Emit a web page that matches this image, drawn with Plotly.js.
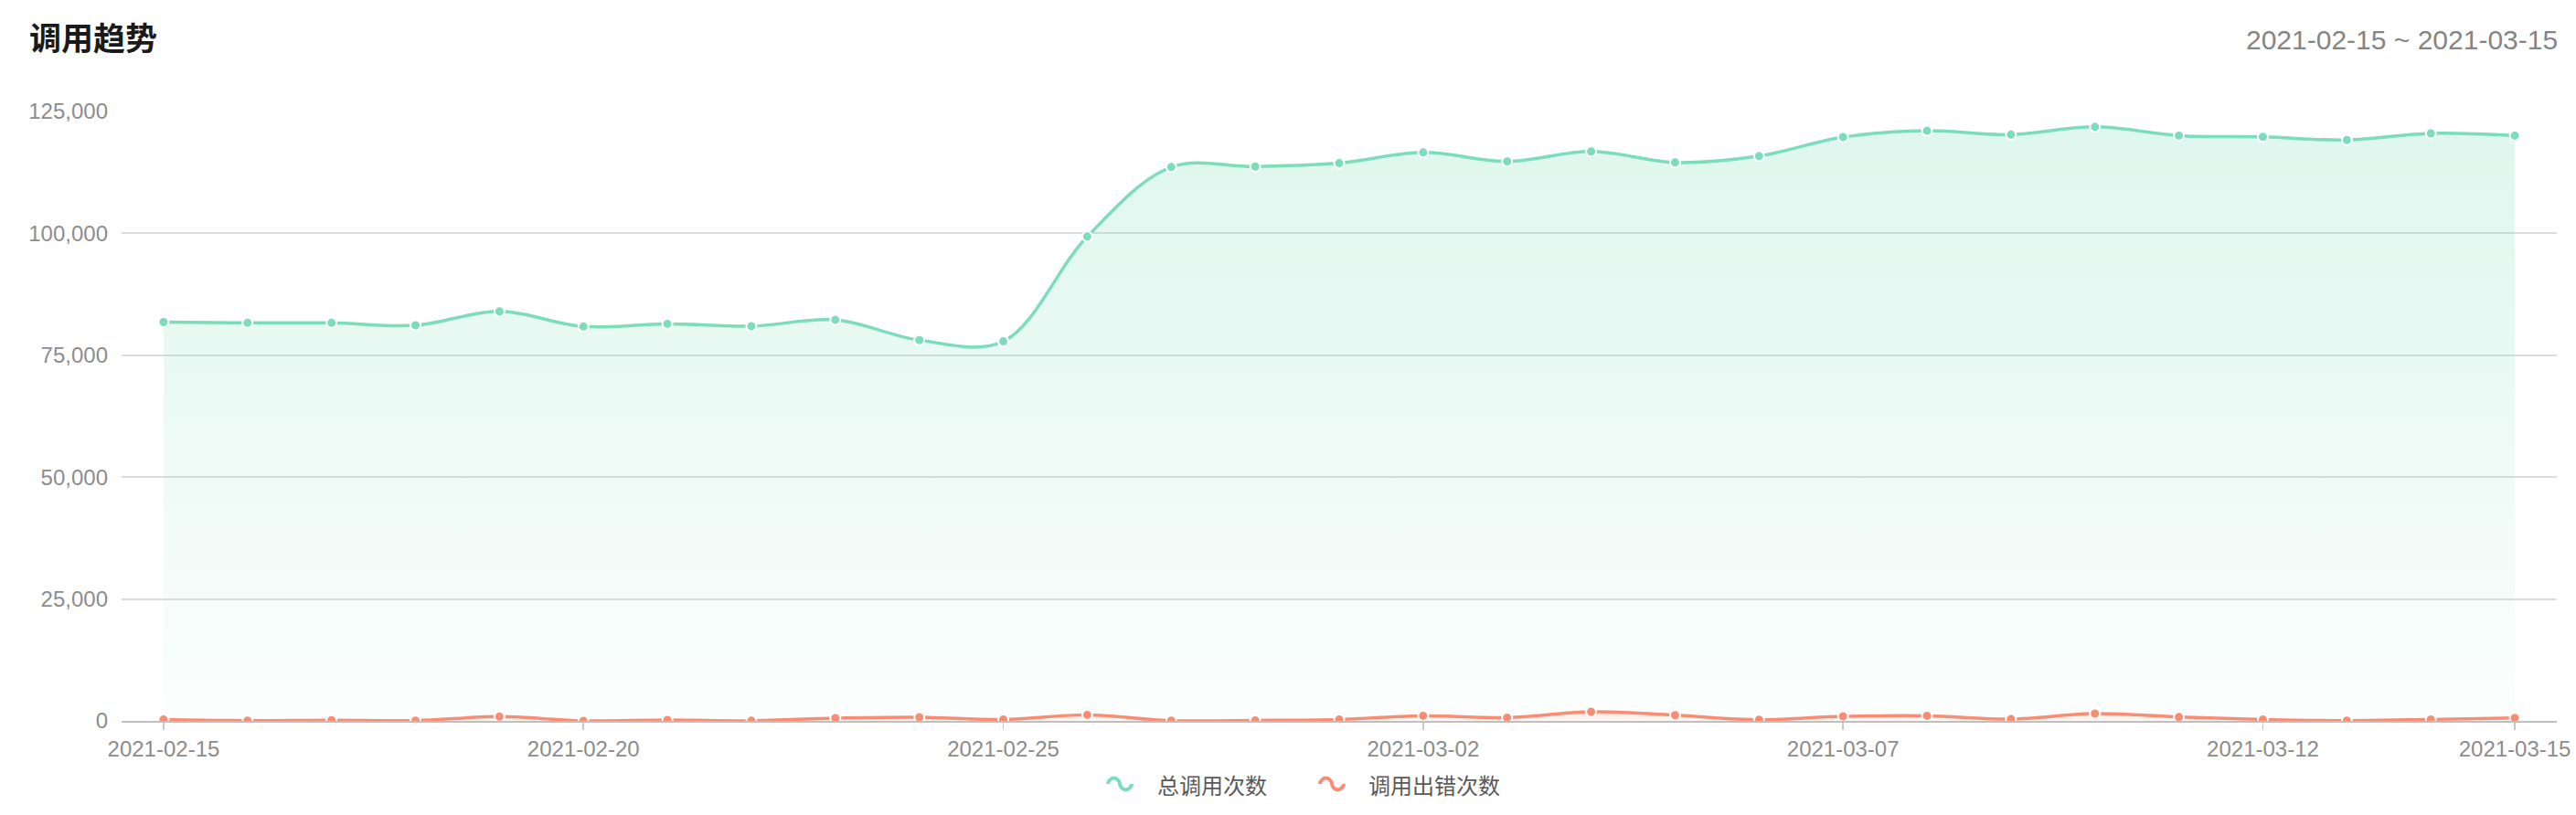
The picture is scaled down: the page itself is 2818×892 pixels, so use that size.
<!DOCTYPE html>
<html>
<head>
<meta charset="utf-8">
<script src="https://cdn.plot.ly/plotly-3.0.1.min.js"></script>
<style>
  html, body { margin: 0; padding: 0; background: #ffffff; }
  #chart { width: 2818px; height: 892px; }
</style>
</head>
<body>
<div id="chart"></div>
<script>
// ---- data ----
const dates = [
  '2021-02-15','2021-02-16','2021-02-17','2021-02-18','2021-02-19','2021-02-20','2021-02-21',
  '2021-02-22','2021-02-23','2021-02-24','2021-02-25','2021-02-26','2021-02-27','2021-02-28',
  '2021-03-01','2021-03-02','2021-03-03','2021-03-04','2021-03-05','2021-03-06','2021-03-07',
  '2021-03-08','2021-03-09','2021-03-10','2021-03-11','2021-03-12','2021-03-13','2021-03-14',
  '2021-03-15'
];
const totalCalls = [
  81800, 81650, 81650, 81150, 84000, 80900, 81450,
  80950, 82250, 78100, 77850, 99350, 113600, 113700,
  114400, 116600, 114750, 116800, 114550, 115850, 119750,
  121050, 120250, 121850, 120050, 119800, 119150, 120500,
  120050
];
const errorCalls = [
  300, 50, 150, 60, 870, 20, 190,
  30, 560, 750, 300, 1240, 50, 110,
  300, 1050, 670, 1870, 1180, 240, 930,
  1050, 370, 1500, 800, 300, 60, 300,
  620
];
const seriesNames = ['总调用次数', '调用出错次数'];
const xTickVals = ['2021-02-15','2021-02-20','2021-02-25','2021-03-02','2021-03-07','2021-03-12','2021-03-15'];
const yTickVals = [0, 25000, 50000, 75000, 100000, 125000];
const titleText = '调用趋势';
const rangeText = '2021-02-15 ~ 2021-03-15';

// ---- style ----
const W = 2818, H = 892;
const M = { l: 133, r: 21, t: 122, b: 103 };
const green = '#7BDDB9';
const red = '#F98D74';
const latin = 'Liberation Sans, Arial, Noto Sans CJK SC, sans-serif';
const cjk = 'Noto Sans CJK SC, Liberation Sans, sans-serif';

const plotW = W - M.l - M.r, plotH = H - M.t - M.b;
const px2x = p => (p - M.l) / plotW;
const px2y = p => (H - M.b - p) / plotH;

function waveShape(cx, cy, color) {
  const path = 'M -13,0 C -13,3.59 -9.09,6.5 -6.5,6.5 C -3.91,6.5 0,3.59 0,0 ' +
               'C 0,-3.59 3.91,-6.5 6.5,-6.5 C 9.09,-6.5 13,-3.59 13,0';
  return {
    type: 'path', xref: 'paper', yref: 'paper',
    xsizemode: 'pixel', ysizemode: 'pixel',
    xanchor: px2x(cx), yanchor: px2y(cy),
    path: path,
    line: { color: color, width: 4 },
    fillcolor: 'rgba(0,0,0,0)'
  };
}

const traces = [
  {
    type: 'scatter', mode: 'lines+markers', name: seriesNames[0],
    x: dates, y: totalCalls,
    line: { color: green, width: 3.5, shape: 'spline', smoothing: 1 },
    marker: { color: green, size: 11, line: { color: '#ffffff', width: 2 } },
    fill: 'tozeroy',
    fillgradient: {
      type: 'vertical', start: 0, stop: 122000,
      colorscale: [[0, 'rgba(123,221,185,0.03)'], [1, 'rgba(123,221,185,0.25)']]
    },
    hoverinfo: 'skip'
  },
  {
    type: 'scatter', mode: 'lines+markers', name: seriesNames[1],
    x: dates, y: errorCalls,
    line: { color: red, width: 3.5, shape: 'spline', smoothing: 1 },
    marker: { color: red, size: 11, line: { color: '#ffffff', width: 2 } },
    fill: 'tozeroy',
    fillgradient: {
      type: 'vertical', start: 0, stop: 2000,
      colorscale: [[0, 'rgba(249,141,116,0.05)'], [1, 'rgba(249,141,116,0.22)']]
    },
    hoverinfo: 'skip'
  }
];

const layout = {
  width: W, height: H,
  margin: M,
  paper_bgcolor: '#ffffff', plot_bgcolor: '#ffffff',
  showlegend: false,
  font: { family: latin, size: 24, color: '#8c8c8c' },
  title: {
    text: '<b>' + titleText + '</b>',
    font: { family: cjk, size: 35, color: '#1a1a1a' },
    xref: 'container', yref: 'container',
    x: 32 / W, xanchor: 'left',
    y: 1 - 43 / H, yanchor: 'middle'
  },
  xaxis: {
    type: 'date',
    range: ['2021-02-14 12:00', '2021-03-15 12:00'],
    tickvals: xTickVals,
    tickformat: '%Y-%m-%d',
    showgrid: false, zeroline: false,
    showline: true, linecolor: '#bfbfbf', linewidth: 2,
    ticks: 'outside', ticklen: 8, tickwidth: 1.5, tickcolor: '#c8c8c8',
    tickfont: { family: latin, size: 24, color: '#8c8c8c' },
    fixedrange: true
  },
  yaxis: {
    range: [0, 125000],
    tickvals: yTickVals,
    tickformat: ',d',
    showgrid: true, gridcolor: '#dcdcdc', gridwidth: 2,
    zeroline: false, showline: false, ticks: '',
    ticklabelstandoff: 14,
    tickfont: { family: latin, size: 24, color: '#8c8c8c' },
    fixedrange: true
  },
  annotations: [
    {
      xref: 'paper', yref: 'paper', x: px2x(2800), y: px2y(44),
      xanchor: 'right', yanchor: 'middle', showarrow: false,
      text: rangeText, font: { family: latin, size: 30, color: '#858585' }
    },
    {
      xref: 'paper', yref: 'paper', x: px2x(1264), y: px2y(858),
      xanchor: 'left', yanchor: 'middle', showarrow: false,
      text: seriesNames[0], font: { family: cjk, size: 24, color: '#595959' }
    },
    {
      xref: 'paper', yref: 'paper', x: px2x(1495), y: px2y(858),
      xanchor: 'left', yanchor: 'middle', showarrow: false,
      text: seriesNames[1], font: { family: cjk, size: 24, color: '#595959' }
    }
  ],
  shapes: [
    waveShape(1225, 858, green),
    waveShape(1457, 858, red)
  ]
};

Plotly.newPlot('chart', traces, layout, { staticPlot: true, displayModeBar: false });
</script>
</body>
</html>
